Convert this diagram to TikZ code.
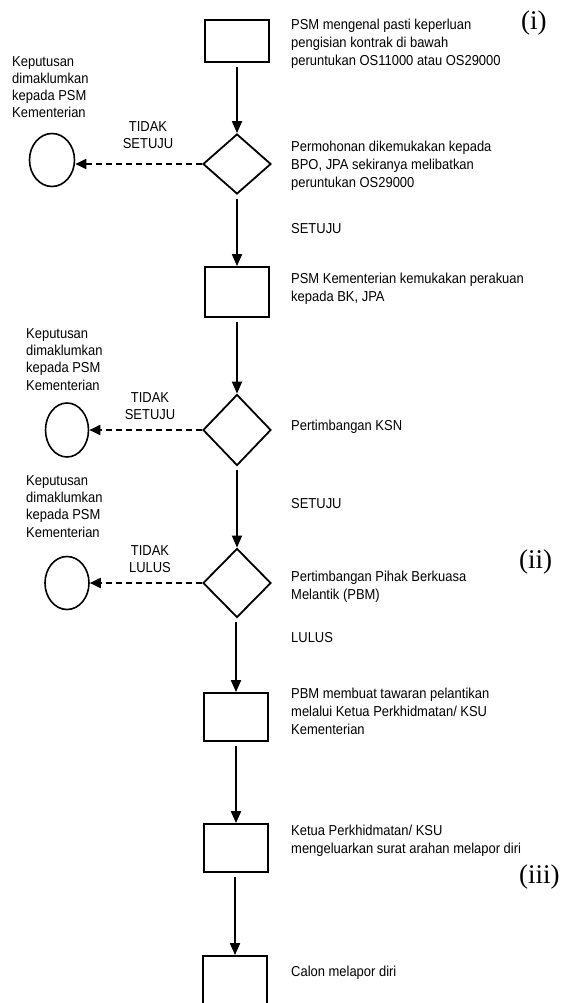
\documentclass[tikz,border=0pt]{standalone}
\usepackage{fontspec}
\setmainfont[FakeStretch=0.9]{Liberation Sans}
\newfontfamily\numfont{Liberation Serif}
\usetikzlibrary{shapes.geometric,arrows.meta}

\begin{document}
\begin{tikzpicture}[x=1pt,y=-1pt,
  every node/.style={inner sep=0pt},
  stepbox/.style={draw, rectangle, line width=1.8pt, minimum width=64pt},
  choice/.style={draw, diamond, line width=1.8pt, minimum width=68pt},
  endpt/.style={draw, ellipse, line width=1.6pt},
  flow/.style={line width=1.8pt, -{Triangle[length=12pt,width=10pt]}, shorten <=4pt},
  reject/.style={line width=1.8pt, dash pattern=on 6pt off 4pt, -{Triangle[length=11pt,width=10pt]}},
  note/.style={anchor=base west, align=left, font=\fontsize{14.4}{18}\selectfont},
  sidenote/.style={anchor=base west, align=left, font=\fontsize{14.4}{17.3}\selectfont},
  verdict/.style={anchor=base, align=center, font=\fontsize{14.4}{17}\selectfont},
  part/.style={anchor=west, font=\fontsize{27}{27}\selectfont\numfont}]

\useasboundingbox (0,0) rectangle (560,1003);
\clip (0,0) rectangle (560,1003);

% main column of steps and decisions
\node[stepbox, minimum height=42pt] (b1) at (237,41) {};
\node[choice, minimum height=60pt] (d1) at (237,164) {};
\node[stepbox, minimum height=50pt] (b2) at (237,292) {};
\node[choice, minimum height=71pt] (d2) at (237,430) {};
\node[choice, minimum height=69pt] (d3) at (237,583) {};
\node[stepbox, minimum height=48pt] (b4) at (236,717) {};
\node[stepbox, minimum height=48pt] (b5) at (236,848) {};
\node[stepbox, minimum height=64pt] (b6) at (235,988) {};

% rejection end points
\node[endpt, minimum width=45pt, minimum height=53pt] (c1) at (52,160) {};
\node[endpt, minimum width=43pt, minimum height=54pt] (c2) at (67,430) {};
\node[endpt, minimum width=44pt, minimum height=53pt] (c3) at (67,583) {};

% flow connectors (kept vertical)
\draw[flow] (b1.south) -- (b1.south |- d1.north);
\draw[flow] (d1.south) -- (d1.south |- b2.north);
\draw[flow] (b2.south) -- (b2.south |- d2.north);
\draw[flow] (d2.south) -- (d2.south |- d3.north);
\draw[flow] (b4.north |- d3.south) -- (b4.north);
\draw[flow] (b4.south) -- (b4.south |- b5.north);
\draw[flow] (b6.north |- b5.south) -- (b6.north);

\draw[reject] (d1.west) -- (d1.west -| c1.east);
\draw[reject] (d2.west) -- (d2.west -| c2.east);
\draw[reject] (d3.west) -- (d3.west -| c3.east);

% step descriptions (positioned at the baseline of their last line)
\node[note] (t1) at (291,66) {PSM mengenal pasti keperluan\\pengisian kontrak di bawah\\peruntukan OS11000 atau OS29000};
\node[note] (t2) at (291,188) {Permohonan dikemukakan kepada\\BPO, JPA sekiranya melibatkan\\peruntukan OS29000};
\node[note] (t3) at (291,233) {SETUJU};
\node[note] (t4) at (291,301) {PSM Kementerian kemukakan perakuan\\kepada BK, JPA};
\node[note] (t5) at (291,430) {Pertimbangan KSN};
\node[note] (t6) at (291,508) {SETUJU};
\node[note] (t7) at (291,599) {Pertimbangan Pihak Berkuasa\\Melantik (PBM)};
\node[note] (t8) at (291,642) {LULUS};
\node[note] (t9) at (291,734) {PBM membuat tawaran pelantikan\\melalui Ketua Perkhidmatan/ KSU\\Kementerian};
\node[note] (t10) at (291,853) {Ketua Perkhidmatan/ KSU\\mengeluarkan surat arahan melapor diri};
\node[note] (t11) at (291,976) {Calon melapor diri};

% notes beside the end points
\node[sidenote] (s1) at (12,118) {Keputusan\\dimaklumkan\\kepada PSM\\Kementerian};
\node[sidenote] (s2) at (26,390) {Keputusan\\dimaklumkan\\kepada PSM\\Kementerian};
\node[sidenote] (s3) at (26,537) {Keputusan\\dimaklumkan\\kepada PSM\\Kementerian};

% labels on the rejection branches
\node[verdict] (v1) at (148,149) {TIDAK\\SETUJU};
\node[verdict] (v2) at (150,419) {TIDAK\\SETUJU};
\node[verdict] (v3) at (150,572) {TIDAK\\LULUS};

% stage markers
\node[part] (p1) at (521,23) {(i)};
\node[part] (p2) at (519,562) {(ii)};
\node[part] (p3) at (519,877) {(iii)};
\end{tikzpicture}
\end{document}
